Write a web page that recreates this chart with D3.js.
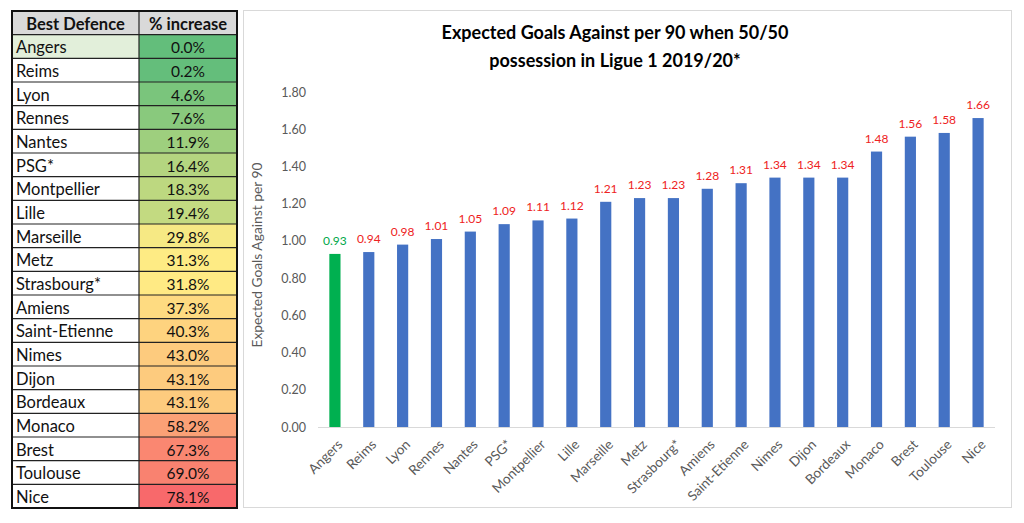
<!DOCTYPE html>
<html><head><meta charset="utf-8">
<script src="https://cdn.jsdelivr.net/npm/d3@7"></script>
<style>
html,body{margin:0;padding:0;background:#fff;}
svg{display:block;}
text{font-family:Lato,"Open Sans",sans-serif;}
</style></head>
<body>
<svg id="c" width="1024" height="523"></svg>
<script>
const teams = ["Angers","Reims","Lyon","Rennes","Nantes","PSG*","Montpellier","Lille","Marseille","Metz","Strasbourg*","Amiens","Saint-Etienne","Nimes","Dijon","Bordeaux","Monaco","Brest","Toulouse","Nice"];
const xga = [0.93,0.94,0.98,1.01,1.05,1.09,1.11,1.12,1.21,1.23,1.23,1.28,1.31,1.34,1.34,1.34,1.48,1.56,1.58,1.66];
const pctIncrease = [0.0,0.2,4.6,7.6,11.9,16.4,18.3,19.4,29.8,31.3,31.8,37.3,40.3,43.0,43.1,43.1,58.2,67.3,69.0,78.1];
const yTicks = [0,0.2,0.4,0.6,0.8,1.0,1.2,1.4,1.6,1.8];
const tableHeaders = ["Best Defence","% increase"];
const highlight = "Angers";
const titleLines = ["Expected Goals Against per 90 when 50/50","possession in Ligue 1 2019/20*"];
const yTitle = "Expected Goals Against per 90";

const svg = d3.select("#c");
const FF = "Lato, 'Open Sans', sans-serif";

// ---------- Table ----------
const tx0 = 12, tx1 = 139, tx2 = 237, ty0 = 11, ty1 = 508;
const rowScale = d3.scaleBand().domain(d3.range(teams.length + 1)).range([ty0, ty1]);
const rh = rowScale.bandwidth();
const med = d3.median(pctIncrease);
const cScale = d3.scaleLinear()
  .domain([d3.min(pctIncrease), med, d3.max(pctIncrease)])
  .range(["#63BE7B", "#FFEB84", "#F8696B"]);

const tbl = svg.append("g");
tbl.append("rect").attr("x", tx0).attr("y", rowScale(0)).attr("width", tx2 - tx0).attr("height", rh).attr("fill", "#d9d9d9");
tbl.append("text").attr("x", (tx0 + tx1) / 2).attr("y", rowScale(0) + rh / 2 + 1)
  .attr("text-anchor", "middle").attr("dominant-baseline", "central")
  .attr("font-weight", "bold").attr("font-size", 16.5).attr("fill", "#111").text(tableHeaders[0]);
tbl.append("text").attr("x", (tx1 + tx2) / 2).attr("y", rowScale(0) + rh / 2 + 1)
  .attr("text-anchor", "middle").attr("dominant-baseline", "central")
  .attr("font-weight", "bold").attr("font-size", 16.5).attr("fill", "#111").text(tableHeaders[1]);

const rows = tbl.selectAll("g.row").data(teams).join("g").attr("class", "row")
  .attr("transform", (d, i) => `translate(0,${rowScale(i + 1)})`);
rows.append("rect").attr("x", tx0).attr("width", tx1 - tx0).attr("height", rh)
  .attr("fill", d => d === highlight ? "#e2efda" : "#fff");
rows.append("rect").attr("x", tx1).attr("width", tx2 - tx1).attr("height", rh)
  .attr("fill", (d, i) => cScale(pctIncrease[i]));
rows.append("text").attr("x", tx0 + 4).attr("y", rh / 2 + 1).attr("dominant-baseline", "central")
  .attr("font-size", 16.5).attr("fill", "#111").text(d => d);
rows.append("text").attr("x", (tx1 + tx2) / 2).attr("y", rh / 2 + 1).attr("dominant-baseline", "central")
  .attr("text-anchor", "middle").attr("font-size", 15.5).attr("fill", "#111")
  .text((d, i) => pctIncrease[i].toFixed(1) + "%");
d3.range(1, teams.length + 1).forEach(i => {
  tbl.append("line").attr("x1", tx0).attr("x2", tx2).attr("y1", rowScale(i)).attr("y2", rowScale(i))
    .attr("stroke", "#222").attr("stroke-width", 1.2);
});
tbl.append("line").attr("x1", tx1).attr("x2", tx1).attr("y1", ty0).attr("y2", ty1).attr("stroke", "#222").attr("stroke-width", 1.2);
tbl.append("rect").attr("x", tx0).attr("y", ty0).attr("width", tx2 - tx0).attr("height", ty1 - ty0)
  .attr("fill", "none").attr("stroke", "#111").attr("stroke-width", 2);

// ---------- Chart panel ----------
svg.append("rect").attr("x", 243.5).attr("y", 10.5).attr("width", 768).attr("height", 497)
  .attr("fill", "#fff").attr("stroke", "#d9d9d9").attr("stroke-width", 1);

const x = d3.scaleBand().domain(teams).range([318, 995]).paddingInner(0.67).paddingOuter(0.335);
const y = d3.scaleLinear().domain([0, 1.8]).range([427, 92]);

const title = svg.append("text").attr("text-anchor", "middle").attr("font-weight", "bold")
  .attr("font-size", 18).attr("fill", "#000");
titleLines.forEach((t, i) => {
  title.append("tspan").attr("x", 615).attr("y", 39 + i * 28).text(t);
});

const yAxis = d3.axisLeft(y).tickValues(yTicks).tickFormat(d3.format(".2f")).tickSize(0).tickPadding(0);
const yg = svg.append("g").attr("transform", "translate(306,0)").call(yAxis);
yg.select(".domain").remove();
yg.selectAll("text").attr("font-size", 12.5).attr("fill", "#595959").attr("font-family", FF);

svg.append("text").attr("transform", "translate(262,255) rotate(-90)")
  .attr("text-anchor", "middle").attr("font-size", 13.8).attr("fill", "#595959").text(yTitle);

svg.selectAll("rect.bar").data(teams).join("rect").attr("class", "bar")
  .attr("x", d => x(d)).attr("width", x.bandwidth())
  .attr("y", (d, i) => y(xga[i])).attr("height", (d, i) => y(0) - y(xga[i]))
  .attr("fill", d => d === highlight ? "#00b050" : "#4472c4");

svg.append("line").attr("x1", 318).attr("x2", 995).attr("y1", y(0) + 0.5).attr("y2", y(0) + 0.5)
  .attr("stroke", "#d9d9d9").attr("stroke-width", 1);

svg.selectAll("text.val").data(teams).join("text").attr("class", "val")
  .attr("x", d => x(d) + x.bandwidth() / 2).attr("y", (d, i) => y(xga[i]) - 9)
  .attr("text-anchor", "middle").attr("font-size", 12)
  .attr("fill", d => d === highlight ? "#00a84a" : "#ee2222")
  .text((d, i) => xga[i].toFixed(2));

const xAxis = d3.axisBottom(x).tickSize(0).tickPadding(0);
const xg = svg.append("g").attr("transform", `translate(0,${y(0)})`).call(xAxis);
xg.select(".domain").remove();
xg.selectAll("text")
  .attr("font-size", 13.5).attr("fill", "#595959").attr("font-family", FF)
  .attr("text-anchor", "end").attr("dy", "0.35em").attr("y", 0)
  .attr("transform", "translate(5,15) rotate(-45)");
</script>
</body></html>
